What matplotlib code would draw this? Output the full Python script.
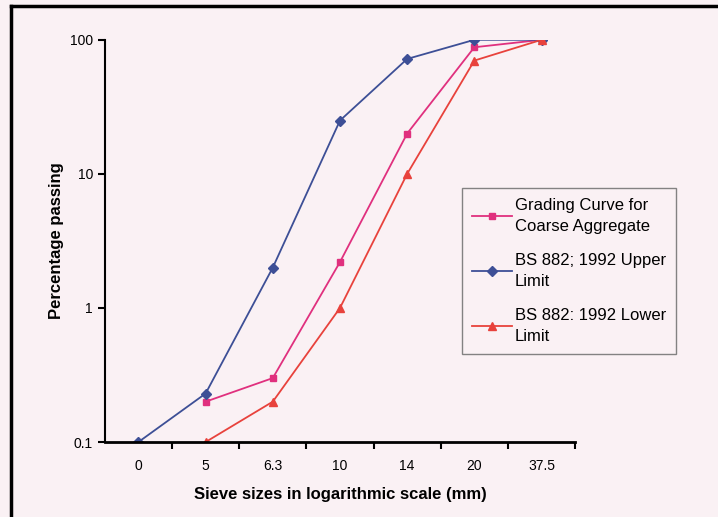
import numpy as np
import matplotlib
matplotlib.use("Agg")
import matplotlib.pyplot as plt
from matplotlib.lines import Line2D
from matplotlib.ticker import FixedLocator, NullLocator

plt.rcParams['font.family'] = ['Liberation Sans', 'DejaVu Sans']

# sieve sizes (categorical axis)
sizes = ["0", "5", "6.3", "10", "14", "20", "37.5"]
grading = [np.nan, 0.2, 0.3, 2.2, 20, 88, 100]
upper = [0.1, 0.23, 2.0, 25, 72, 100, 100]
lower = [np.nan, 0.1, 0.2, 1.0, 10, 70, 100]

bg = '#faf1f4'
fig = plt.figure(figsize=(7.18, 5.17), dpi=100, facecolor=bg)
ax = fig.add_axes([0.146, 0.145, 0.655, 0.778])
ax.set_facecolor(bg)

x = np.arange(len(sizes))
ax.plot(x, grading, color='#e0307e', marker='s', markersize=5, linewidth=1.3,
        label='Grading Curve for\nCoarse Aggregate')
ax.plot(x, upper, color='#3d4f96', marker='D', markersize=5, linewidth=1.3,
        label='BS 882; 1992 Upper\nLimit')
ax.plot(x, lower, color='#e8423c', marker='^', markersize=6, linewidth=1.3,
        label='BS 882: 1992 Lower\nLimit')

ax.set_yscale('log')
ax.set_ylim(0.1, 100)
ax.yaxis.set_major_locator(FixedLocator([0.1, 1, 10, 100]))
ax.yaxis.set_minor_locator(NullLocator())
ax.set_yticklabels(['0.1', '1', '10', '100'])

ax.set_xlim(-0.5, len(sizes) - 0.5)
ax.set_xticks(x)
ax.set_xticklabels(sizes)
ax.set_xticks(np.arange(len(sizes)) + 0.5, minor=True)
ax.tick_params(axis='x', which='major', length=0, pad=12, labelsize=10)
ax.tick_params(axis='x', which='minor', length=5, width=1.5, direction='out')
ax.tick_params(axis='y', which='major', length=5, width=1.5, direction='out', labelsize=10)

for s in ['top', 'right']:
    ax.spines[s].set_visible(False)
ax.spines['left'].set_linewidth(1.5)
ax.spines['bottom'].set_linewidth(2)

ax.set_xlabel('Sieve sizes in logarithmic scale (mm)', fontsize=12, fontweight='bold', labelpad=10)
ax.set_ylabel('Percentage passing', fontsize=12, fontweight='bold', labelpad=4)

leg = ax.legend(loc='upper left', bbox_to_anchor=(0.76, 0.632), fontsize=12,
                frameon=True, fancybox=False, edgecolor='#666666', facecolor=bg,
                handlelength=2.4, handletextpad=0.15, borderpad=0.6, labelspacing=1.1,
                borderaxespad=0)
leg.get_frame().set_linewidth(1)
for t in leg.get_texts():
    t.set_linespacing(1.55)

# picture border on top and left only
fig.add_artist(Line2D([0.015, 1.0], [0.988, 0.988], transform=fig.transFigure,
                      color='black', linewidth=2.5))
fig.add_artist(Line2D([0.015, 0.015], [0.0, 0.988], transform=fig.transFigure,
                      color='black', linewidth=2.5))

fig.savefig('out.png', dpi=100, facecolor=bg)
